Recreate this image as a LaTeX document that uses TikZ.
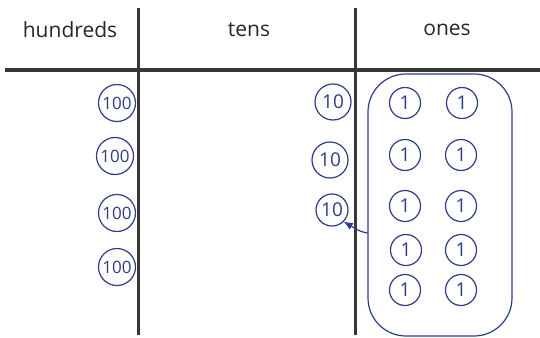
\documentclass[tikz,border=0pt]{standalone}
\usepackage{fontspec}
\setmainfont{Open Sans}
\usepackage{xcolor}
\usepackage{tikz}
\usetikzlibrary{arrows, arrows.meta, positioning}
\definecolor{ink}{RGB}{45,60,140}
\definecolor{rulegray}{RGB}{55,55,55}

\begin{document}
\begin{tikzpicture}[x=1pt, y=-1pt]
    % Styles
    \tikzstyle{header} = [font=\fontsize{21}{24}\selectfont, text=black!85]
    \tikzstyle{hundred} = [circle, draw=ink, line width=1.2pt, minimum size=37pt, inner sep=0pt, text=ink, font=\fontsize{17}{17}\selectfont]
    \tikzstyle{ten} = [hundred, minimum size=36pt, font=\fontsize{19}{19}\selectfont]
    \tikzstyle{one} = [hundred, minimum size=31pt, font=\fontsize{19}{19}\selectfont]
    \tikzstyle{group} = [draw=ink, line width=1.2pt, rounded corners=38pt, minimum width=144pt, minimum height=262pt, inner sep=0pt]
    \tikzstyle{line} = [draw=ink, -{Latex[length=9pt, width=8pt]}, line width=1.2pt]

    \useasboundingbox (0,0) rectangle (540,337);

    % Chart lines
    \draw [rulegray, line width=3pt] (138,8) -- (138,335);
    \draw [rulegray, line width=3pt] (355,8) -- (355,335);
    \draw [rulegray, line width=4pt] (5,70) -- (540,70);

    % Headers
    \node [header] (hdrhundreds) at (70,30) {hundreds};
    \node [header] (hdrtens) at (249,30) {tens};
    \node [header] (hdrones) at (447,30) {ones};

    % Hundreds
    \node [hundred] (hun1) at (117,103) {100};
    \node [hundred] (hun2) at (115,156) {100};
    \node [hundred] (hun3) at (117,213) {100};
    \node [hundred] (hun4) at (117,267) {100};

    % Tens
    \node [ten] (ten1) at (333,102) {10};
    \node [ten] (ten2) at (330,160) {10};
    \node [ten, minimum size=32pt] (ten3) at (332,210) {10};

    % Ones
    \node [one] (one1) at (405,103) {1};
    \node [one] (one2) at (462,103) {1};
    \node [one] (one3) at (405,155) {1};
    \node [one] (one4) at (461,155) {1};
    \node [one] (one5) at (405,206) {1};
    \node [one] (one6) at (461,206) {1};
    \node [one] (one7) at (406,250) {1};
    \node [one] (one8) at (461,250) {1};
    \node [one] (one9) at (405,290) {1};
    \node [one] (one10) at (461,290) {1};

    % Group of ten ones
    \node [group] (ones) at (440,205) {};

    % Paths
    \path [line] ([yshift=-28pt]ones.west) to[out=170, in=-30] (ten3.south east);
\end{tikzpicture}
\end{document}
